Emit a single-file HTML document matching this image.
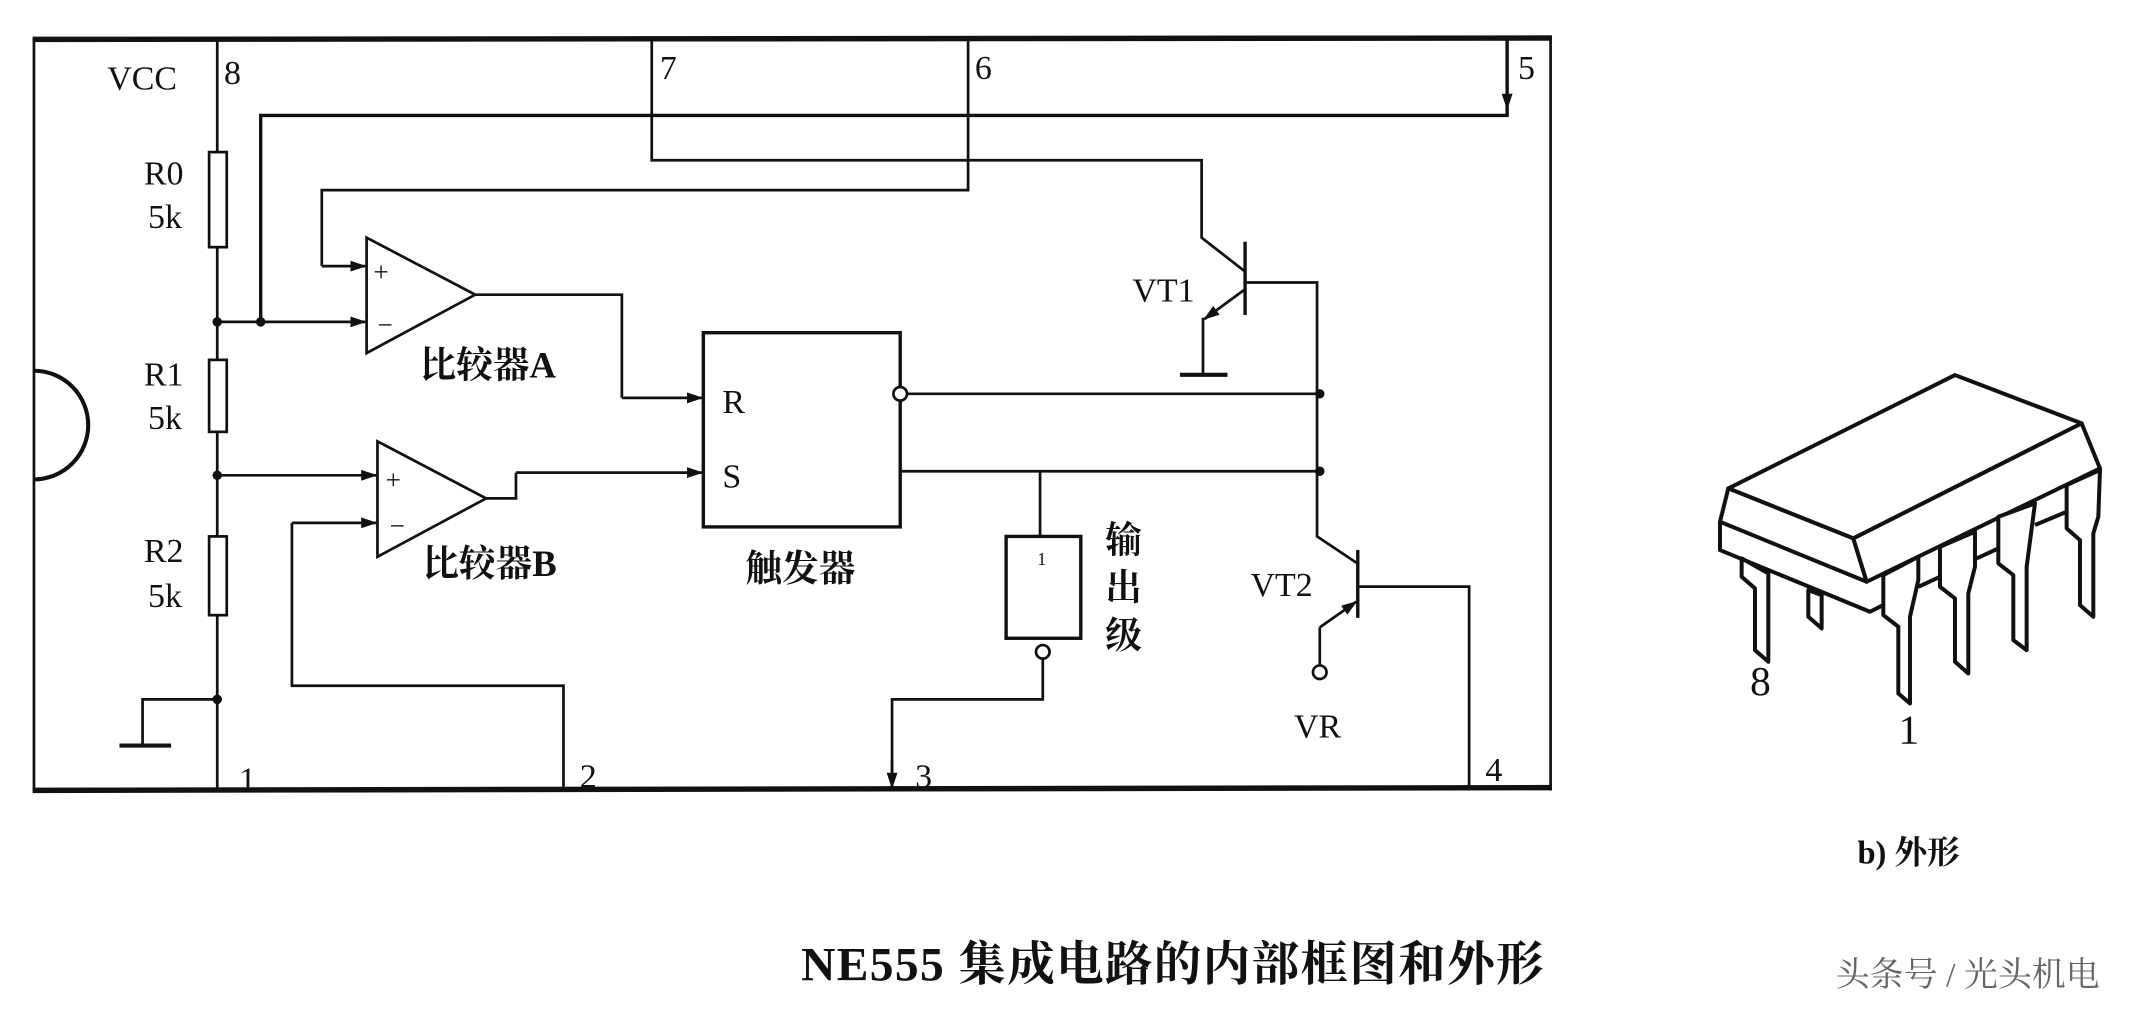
<!DOCTYPE html>
<html><head><meta charset="utf-8"><style>
html,body{margin:0;padding:0;background:#fff;}
svg{display:block}
text{font-family:"Liberation Serif","Noto Serif CJK SC",serif;fill:#111;}
.cj{font-family:"Liberation Serif","Noto Sans CJK SC",sans-serif;font-weight:bold;}
</style></head><body>
<svg width="2129" height="1009" viewBox="0 0 1568 743" xmlns="http://www.w3.org/2000/svg" preserveAspectRatio="none">
<defs><marker id="ar" markerWidth="12" markerHeight="8" refX="11" refY="4" orient="auto" markerUnits="userSpaceOnUse"><path d="M0,0 L12,4 L0,8 z" fill="#111"/></marker></defs>
<g stroke="#111" fill="none" stroke-width="2">
<line x1="24" y1="29" x2="1143" y2="28" stroke-width="4"/>
<line x1="24" y1="582" x2="1143" y2="580" stroke-width="4"/>
<line x1="25" y1="28" x2="25" y2="582"/>
<line x1="1142" y1="28" x2="1142" y2="582"/>
<path d="M25,273 A40,40 0 0 1 25,353" stroke-width="3"/>
<line x1="160" y1="28" x2="160" y2="582"/>
<rect x="154" y="112" width="13" height="70" fill="#fff"/>
<rect x="154" y="265" width="13" height="53" fill="#fff"/>
<rect x="154" y="395" width="13" height="58" fill="#fff"/>
<polyline points="160,515 105,515 105,548"/>
<line x1="88" y1="549" x2="126" y2="549" stroke-width="3"/>
<polyline points="1110,28 1110,85 192,85 192,237" stroke-width="2.5"/>
<line x1="1110" y1="40" x2="1110" y2="80" marker-end="url(#ar)"/>
<polyline points="480,28 480,118 885,118 885,175 917,200"/>
<polyline points="713,28 713,140 237,140 237,196"/>
<line x1="237" y1="196" x2="269" y2="196" marker-end="url(#ar)"/>
<polygon points="270,175 270,260 350,217" fill="#fff"/>
<line x1="160" y1="237" x2="269" y2="237" marker-end="url(#ar)"/>
<polyline points="350,217 458,217 458,293"/>
<line x1="458" y1="293" x2="517" y2="293" marker-end="url(#ar)"/>
<polygon points="278,325 278,410 358,367" fill="#fff"/>
<line x1="160" y1="350" x2="277" y2="350" marker-end="url(#ar)"/>
<polyline points="415,582 415,505 215,505 215,385"/>
<line x1="215" y1="385" x2="277" y2="385" marker-end="url(#ar)"/>
<polyline points="358,367 380,367 380,348"/>
<line x1="380" y1="348" x2="517" y2="348" marker-end="url(#ar)"/>
<rect x="518" y="245" width="145" height="143" stroke-width="2.5"/>
<line x1="668" y1="290" x2="972" y2="290"/>
<line x1="663" y1="347" x2="972" y2="347"/>
<line x1="766" y1="347" x2="766" y2="395"/>
<rect x="741" y="395" width="55" height="75" stroke-width="2.5"/>
<polyline points="768,485 768,515 657,515 657,582"/>
<line x1="657" y1="560" x2="657" y2="580" marker-end="url(#ar)"/>
<line x1="917" y1="178" x2="917" y2="232" stroke-width="2.5"/>
<polyline points="917,208 970,208 970,395 1000,415"/>
<line x1="917" y1="213" x2="887" y2="235" marker-end="url(#ar)"/>
<polyline points="886,234 886,275"/>
<line x1="869" y1="276" x2="904" y2="276" stroke-width="3"/>
<line x1="1000" y1="405" x2="1000" y2="455" stroke-width="2.5"/>
<polyline points="1000,432 1082,432 1082,582"/>
<line x1="972" y1="462" x2="999" y2="443" marker-end="url(#ar)"/>
<polyline points="972,462 972,490"/>
</g>
<g fill="#111">
<circle cx="160" cy="237" r="3.5"/><circle cx="192" cy="237" r="3.5"/>
<circle cx="160" cy="350" r="3.5"/><circle cx="160" cy="515" r="3.5"/>
<circle cx="972" cy="290" r="3.5"/><circle cx="972" cy="347" r="3.5"/>
</g>
<g fill="#fff" stroke="#111" stroke-width="2">
<circle cx="663" cy="290" r="5"/><circle cx="768" cy="480" r="5"/><circle cx="972" cy="495" r="5"/>
</g>
<g font-size="25">
<text x="79" y="66">VCC</text><text x="165" y="62">8</text>
<text x="106" y="136">R0</text><text x="109" y="168">5k</text>
<text x="106" y="284">R1</text><text x="109" y="316">5k</text>
<text x="106" y="414">R2</text><text x="109" y="447">5k</text>
<text x="486" y="58">7</text><text x="718" y="58">6</text><text x="1118" y="58">5</text>
<text x="176" y="582">1</text><text x="427" y="580">2</text><text x="674" y="580">3</text><text x="1094" y="575">4</text>
<text x="275" y="207" font-size="20">+</text><text x="278" y="246" font-size="20">−</text>
<text x="284" y="360" font-size="20">+</text><text x="287" y="394" font-size="20">−</text>
<text x="532" y="304">R</text><text x="532" y="359">S</text>
<text x="764" y="416" font-size="13">1</text>
<text x="834" y="222">VT1</text><text x="921" y="439">VT2</text><text x="953" y="543">VR</text>
</g>
<g class="cj" font-size="27">
<text x="309" y="278">比较器A</text>
<text x="311" y="424">比较器B</text>
<text x="549" y="428">触发器</text>
<text x="814" y="407">输</text><text x="814" y="442">出</text><text x="814" y="477">级</text>
<text x="1368" y="636" font-size="24">b) 外形</text>
<text x="590" y="722" font-size="35" letter-spacing="1">NE555 集成电路的内部框图和外形</text>
<text x="1352" y="726" font-size="25" style="fill:#666;font-weight:normal">头条号 / 光头机电</text>
</g>
<g transform="scale(0.73649) translate(1700,360) scale(0.33333)" stroke="#111" stroke-width="12" fill="#fff" stroke-linejoin="round">
<polygon points="85,385 765,45 1145,190 460,535"/>
<polygon points="85,385 460,535 500,665 60,485"/>
<polygon points="460,535 1145,190 1200,325 500,665"/>
<polyline points="60,485 60,570 510,755 550,735" fill="none"/>
<polyline points="1200,325 1190,460 1170,520" fill="none"/>
<polygon points="125,595 125,650 165,685 165,870 205,905 205,640"/>
<polygon points="325,690 325,770 365,805 365,705"/>
<polygon points="550,645 550,765 595,800 595,1000 630,1030 630,770 655,660 655,590"/>
<polygon points="720,560 720,680 765,715 765,905 805,940 805,700 825,620 825,515"/>
<polygon points="895,470 895,610 940,645 940,840 980,870 980,620 1005,430"/>
<polygon points="1100,375 1100,505 1140,540 1140,735 1180,770 1180,520 1195,470 1200,330"/>
<line x1="655" y1="680" x2="720" y2="650"/>
<line x1="830" y1="595" x2="895" y2="565"/>
<line x1="1005" y1="495" x2="1100" y2="455"/>
<text x="150" y="1005" font-size="125" stroke="none" fill="#111">8</text>
<text x="595" y="1150" font-size="125" stroke="none" fill="#111">1</text>
</g>
</svg>
</body></html>
